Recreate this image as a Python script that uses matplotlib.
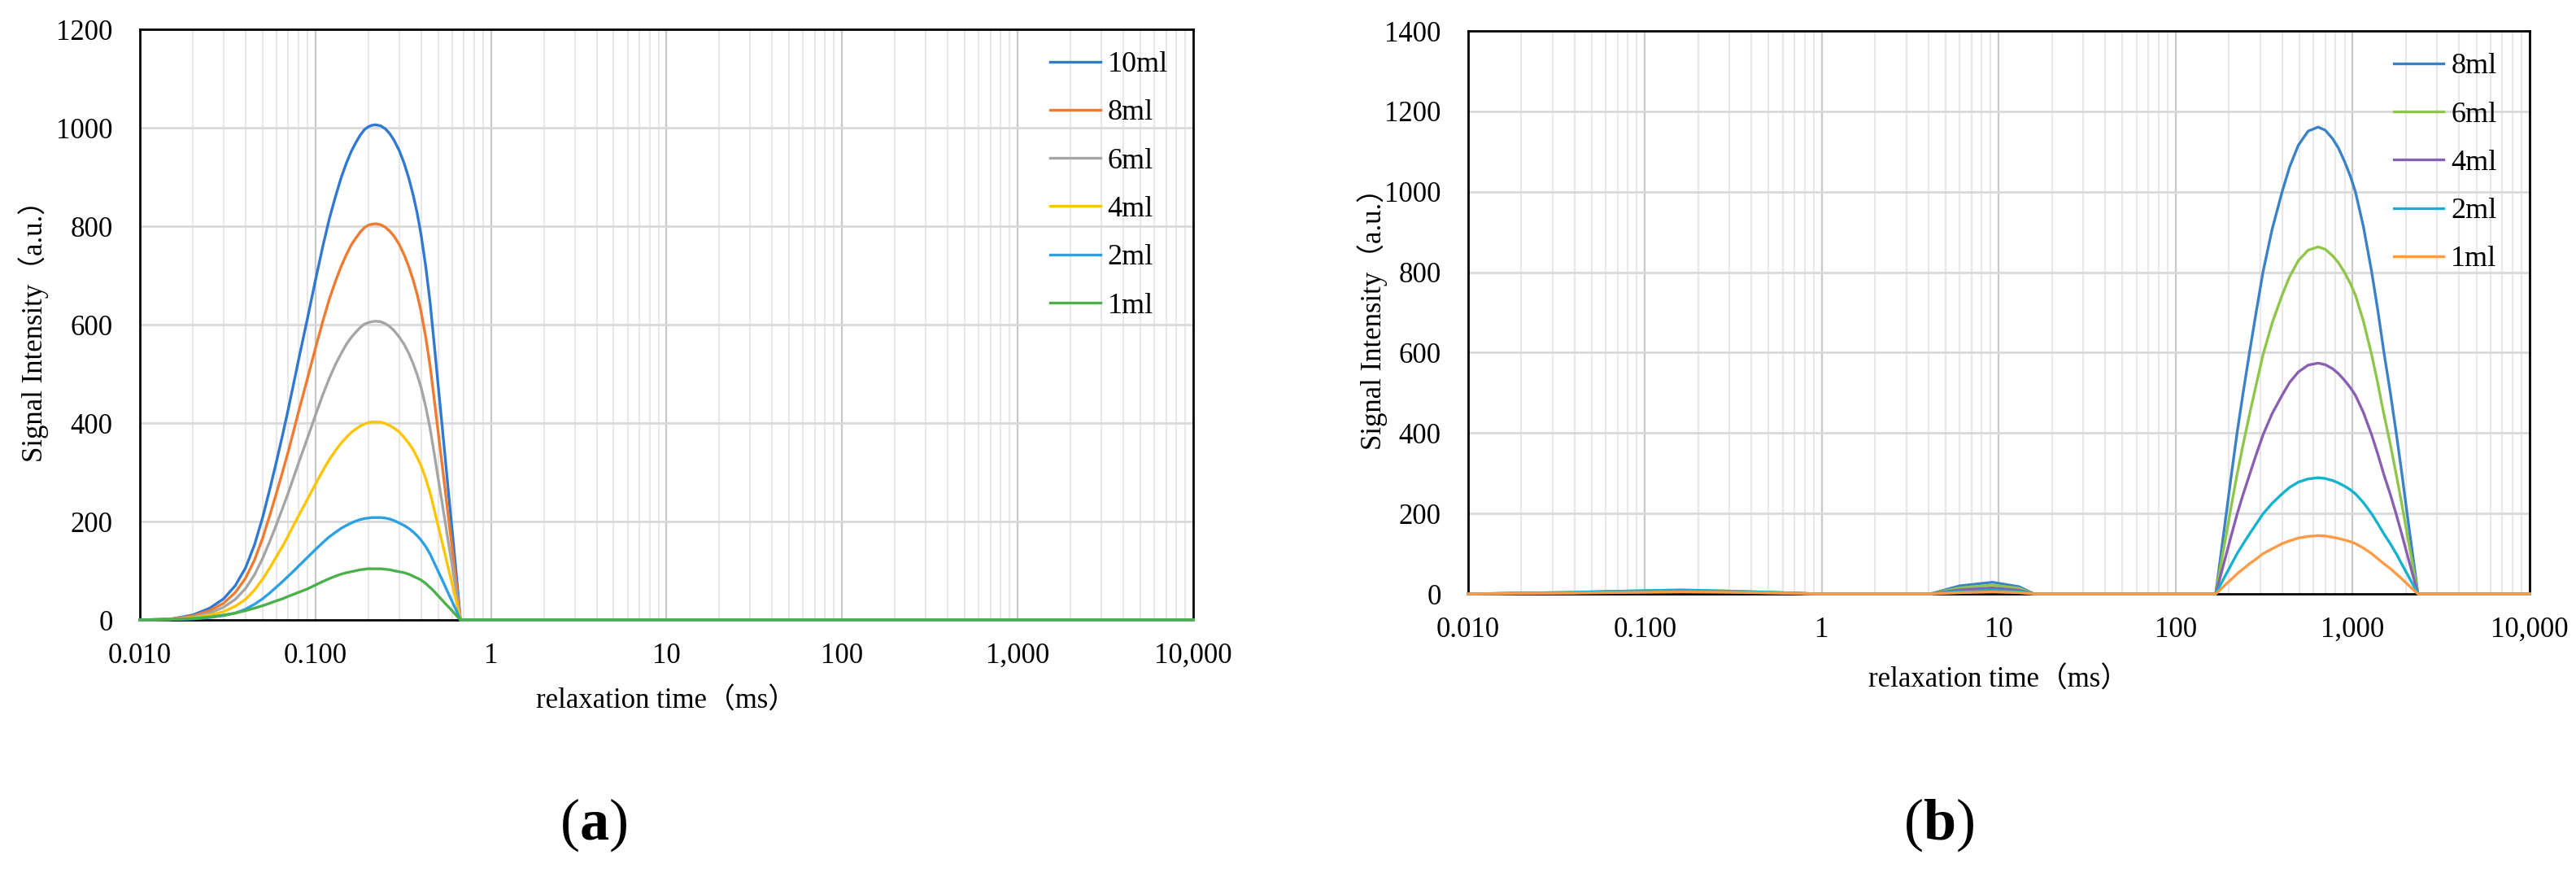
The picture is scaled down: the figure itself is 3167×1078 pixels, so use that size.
import matplotlib
matplotlib.use("Agg")
import matplotlib.pyplot as plt
from matplotlib.ticker import FixedLocator, FixedFormatter, LogLocator, NullFormatter

plt.rcParams['font.family'] = ['Liberation Serif', 'Noto Sans CJK SC']
plt.rcParams['mathtext.fontset'] = 'custom'
plt.rcParams['mathtext.rm'] = 'Liberation Serif'
plt.rcParams['mathtext.bf'] = 'Liberation Serif:bold'

# ---- data, panel (a) ----
time_a = [0.01, 0.015, 0.02, 0.025, 0.03, 0.035, 0.04, 0.045, 0.05, 0.055,
          0.06, 0.065, 0.07, 0.075, 0.08, 0.09, 0.1, 0.11, 0.12, 0.13,
          0.14, 0.15, 0.16, 0.17, 0.18, 0.19, 0.2, 0.21, 0.22, 0.235,
          0.25, 0.265, 0.28, 0.3, 0.32, 0.34, 0.36, 0.38, 0.4, 0.425,
          0.45, 0.475, 0.5, 0.525, 0.55, 0.575, 0.6, 0.635, 0.67,
          1, 10, 100, 1000, 10000]
a_10ml = [0, 2, 10, 24, 43, 70, 106, 153, 208, 266,
          322, 376, 428, 479, 527, 612, 690, 758, 815, 860,
          898, 928, 952, 970, 985, 996, 1002, 1005, 1006, 1004,
          998, 988, 975, 954, 928, 898, 864, 826, 782, 718,
          645, 560, 477, 400, 325, 252, 185, 92, 0,
          0, 0, 0, 0, 0]
a_8ml = [0, 2, 8, 19, 34, 56, 85, 122, 166, 213,
         258, 301, 342, 383, 422, 490, 552, 606, 652, 688,
         718, 742, 762, 776, 788, 797, 802, 804, 805, 803,
         798, 790, 780, 763, 742, 718, 691, 661, 626, 574,
         516, 448, 382, 320, 260, 202, 148, 74, 0,
         0, 0, 0, 0, 0]
a_6ml = [0, 1, 6, 14, 26, 42, 64, 92, 125, 160,
         194, 227, 258, 289, 318, 369, 416, 457, 491, 519,
         541, 560, 574, 585, 594, 601, 604, 606, 607, 606,
         602, 596, 588, 575, 560, 542, 521, 498, 472, 433,
         389, 338, 288, 241, 196, 152, 112, 55, 0,
         0, 0, 0, 0, 0]
a_4ml = [0, 1, 4, 10, 17, 28, 42, 61, 83, 106,
         129, 150, 171, 192, 211, 245, 276, 303, 326, 344,
         359, 371, 381, 388, 394, 398, 401, 402, 402, 402,
         399, 395, 390, 382, 371, 359, 346, 330, 313, 287,
         258, 224, 191, 160, 130, 101, 74, 37, 0,
         0, 0, 0, 0, 0]
a_2ml = [0, 1, 2, 5, 9, 14, 22, 32, 43, 55,
         67, 78, 89, 99, 109, 127, 143, 157, 169, 178,
         186, 192, 197, 201, 204, 206, 207, 208, 208, 208,
         207, 205, 202, 197, 192, 186, 179, 171, 162, 149,
         134, 116, 99, 83, 67, 52, 38, 19, 0,
         0, 0, 0, 0, 0]
a_1ml = [0, 1, 3, 6, 10, 14, 19, 24, 29, 34,
         39, 43, 48, 52, 56, 63, 71, 78, 84, 89,
         93, 96, 98, 100, 102, 103, 104, 104, 104, 104,
         103, 102, 100, 98, 96, 93, 89, 85, 81, 74,
         66, 58, 49, 41, 33, 26, 19, 9, 0,
         0, 0, 0, 0, 0]
labels_a = ["10ml", "8ml", "6ml", "4ml", "2ml", "1ml"]
colors_a = ["#2f78d4", "#f07a30", "#a5a5a5", "#ffc400", "#2ba0e4", "#4cb04a"]

# ---- data, panel (b) ----
time_b = [0.01, 0.04, 0.06, 0.1, 0.16, 0.3, 0.6, 0.95, 4.1, 6, 9.2, 13, 15.8,
          168, 180, 193, 207, 222, 240, 261, 285, 311, 350, 399, 440, 493, 560,
          638, 700, 770, 830, 900, 970, 1036, 1150, 1281, 1390, 1502, 1630,
          1762, 1890, 2030, 2180, 2339, 10000]
b_8ml = [0, 3, 5, 7, 8, 6, 3, 0, 0, 20, 29, 18, 0,
         0, 99, 200, 302, 400, 499, 600, 702, 800, 906, 1000, 1062, 1116, 1151,
         1161, 1153, 1132, 1109, 1075, 1039, 1000, 913, 800, 702, 600, 502,
         400, 304, 200, 99, 0, 0]
b_6ml = [0, 4, 6, 8, 9, 7, 3, 0, 0, 15, 22, 14, 0,
         0, 74, 149, 224, 297, 371, 446, 521, 594, 673, 743, 789, 829, 855,
         863, 857, 841, 824, 799, 772, 743, 678, 594, 521, 446, 373,
         297, 226, 149, 74, 0, 0]
b_4ml = [0, 3, 5, 6, 7, 5, 2, 0, 0, 10, 15, 9, 0,
         0, 49, 99, 149, 198, 247, 296, 347, 395, 448, 494, 526, 552, 569,
         574, 570, 560, 548, 531, 513, 494, 451, 395, 346, 296, 248,
         198, 150, 99, 49, 0, 0]
b_2ml = [0, 4, 6, 8, 10, 7, 3, 0, 0, 6, 9, 6, 0,
         0, 25, 50, 75, 100, 124, 149, 174, 199, 225, 249, 265, 278, 286,
         289, 287, 282, 276, 268, 259, 249, 227, 199, 174, 149, 125,
         100, 75, 50, 25, 0, 0]
b_1ml = [0, 2, 3, 4, 5, 4, 2, 0, 0, 3, 5, 3, 0,
         0, 12, 25, 37, 50, 62, 75, 87, 100, 112, 125, 132, 139, 143,
         145, 144, 141, 138, 134, 130, 125, 114, 100, 87, 75, 63,
         50, 38, 25, 12, 0, 0]
labels_b = ["8ml", "6ml", "4ml", "2ml", "1ml"]
colors_b = ["#3a82c8", "#8fc64a", "#8a5fb2", "#14b2cc", "#ff9a45"]

x_ticks = [0.01, 0.1, 1, 10, 100, 1000, 10000]
x_tick_labels = ["0.010", "0.100", "1", "10", "100", "1,000", "10,000"]
y_ticks_a = [0, 200, 400, 600, 800, 1000, 1200]
y_ticks_b = [0, 200, 400, 600, 800, 1000, 1200, 1400]

fig = plt.figure(figsize=(31.67, 10.78), dpi=100)
ax_a = fig.add_axes([0.0543, 0.2931, 0.4089, 0.6735])
ax_b = fig.add_axes([0.5699, 0.3228, 0.4121, 0.6419])


def style_axes(ax, yticks, xlab_y, ylab_x):
    ax.set_xscale("log")
    ax.set_xlim(0.01, 10000)
    ax.set_ylim(yticks[0], yticks[-1])
    ax.xaxis.set_major_locator(FixedLocator(x_ticks))
    ax.xaxis.set_major_formatter(FixedFormatter(x_tick_labels))
    ax.xaxis.set_minor_locator(LogLocator(base=10, subs=range(2, 10), numticks=20))
    ax.xaxis.set_minor_formatter(NullFormatter())
    ax.set_yticks(yticks)
    ax.tick_params(axis="both", which="both", length=0, labelsize=25)
    ax.tick_params(axis="x", pad=20)
    ax.tick_params(axis="y", pad=24)
    ax.grid(True, axis="x", which="major", color="#c8c8c8", lw=1.6)
    ax.grid(True, axis="x", which="minor", color="#e8e8e8", lw=1.6)
    ax.grid(True, axis="y", which="major", color="#d9d9d9", lw=2.0)
    ax.set_axisbelow(True)
    for sp in ax.spines.values():
        sp.set_color("black")
        sp.set_linewidth(2.0)
    ax.set_xlabel("relaxation time（ms）", fontsize=25)
    ax.set_ylabel("Signal Intensity（a.u.）", fontsize=25)
    ax.xaxis.set_label_coords(0.5, xlab_y)
    ax.xaxis.label.set_va("center")
    ax.yaxis.set_label_coords(ylab_x, 0.5)
    ax.yaxis.label.set_va("center")


for ys, lab, col in zip([a_10ml, a_8ml, a_6ml, a_4ml, a_2ml, a_1ml], labels_a, colors_a):
    ax_a.plot(time_a, ys, color=col, lw=2.4, label=lab, zorder=3, clip_on=False)
style_axes(ax_a, y_ticks_a, -0.138, -0.101)
ax_a.legend(loc="upper right", bbox_to_anchor=(0.976, 0.963), frameon=False, fontsize=26,
            handlelength=1.7, handletextpad=0.25, labelspacing=0.72, borderpad=0,
            borderaxespad=0)

for ys, lab, col in zip([b_8ml, b_6ml, b_4ml, b_2ml, b_1ml], labels_b, colors_b):
    ax_b.plot(time_b, ys, color=col, lw=2.4, label=lab, zorder=3, clip_on=False)
style_axes(ax_b, y_ticks_b, -0.153, -0.09)
ax_b.legend(loc="upper right", bbox_to_anchor=(0.969, 0.961), frameon=False, fontsize=26,
            handlelength=1.7, handletextpad=0.25, labelspacing=0.72, borderpad=0,
            borderaxespad=0)

fig.text(0.2305, 0.0594, r"($\mathbf{a}$)", fontsize=52, ha="center", va="center")
fig.text(0.7525, 0.0594, r"($\mathbf{b}$)", fontsize=52, ha="center", va="center")

fig.savefig("out.png", dpi=100)
